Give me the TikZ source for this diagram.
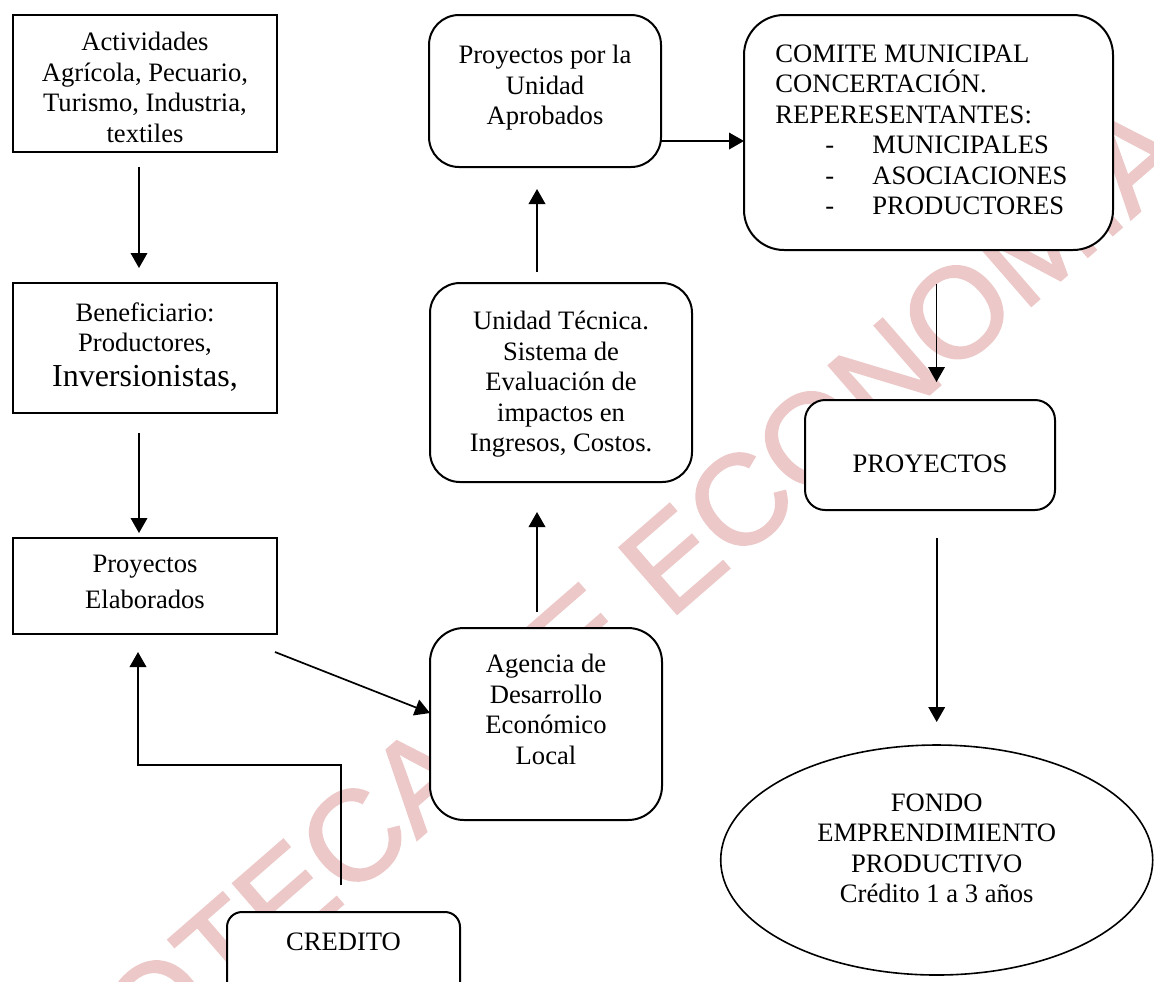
\documentclass[tikz,border=0pt]{standalone}
\usepackage{fontspec}
\setmainfont{Liberation Serif}
\newfontfamily\marcafont[FakeBold=1.5]{Liberation Sans}
\usetikzlibrary{arrows.meta, calc, positioning, shapes.geometric}
\definecolor{wmpink}{RGB}{236,200,200}
\newcommand{\guion}[1]{\makebox[48.5pt][l]{\hspace{25pt}-}#1}

\begin{document}
\begin{tikzpicture}[
				x=0.5pt, y=-0.5pt,
				texts/.style = {text=black, inner sep=0pt, align=center, font=\fontsize{13.3}{15.25}\selectfont},
				marca/.style = {text=wmpink, inner sep=0pt, font=\marcafont\fontsize{64}{64}\selectfont},
				sqbox/.style = {draw, line width=1pt, fill=white, inner sep=0pt, outer sep=0pt},
				rdbox/.style = {sqbox, rounded corners=#1},
				rdbox/.default = 15pt,
				oval/.style = {sqbox, ellipse, line width=0.8pt},
				flow/.style = {draw, line width=0.85pt, -{Triangle[length=7.5pt, width=8.3pt]}}
				]
				\useasboundingbox (0,0) rectangle (1154,981);
				\clip (0,0) rectangle (1154,981);
				\node[marca, rotate=41, anchor=base west] (wm) at (-88,1279) {BIBLIOTECA DE ECONOMIA};
				
				% left column
				\node[sqbox, minimum width=132pt, minimum height=68.5pt] (act) at (145,83.5) {};
				\node[texts, below=8.4pt of act.north] (act-t) {Actividades\\Agrícola, Pecuario,\\Turismo, Industria,\\textiles};
				\node[sqbox, minimum width=132pt, minimum height=65pt] (ben) at (145,348) {};
				\node[texts, below=9.5pt of ben.north] (ben-t) {Beneficiario:\\Productores,\\[2.25pt]{\fontsize{16}{18}\selectfont Inversionistas,}};
				\node[sqbox, minimum width=132pt, minimum height=48pt] (elab) at (145,586) {};
				\node[texts, below=8.5pt of elab.north] (elab-t) {Proyectos\\[2.5pt]Elaborados};
				\node[rdbox=7.5pt, minimum width=116.5pt, minimum height=44pt] (cred) at (343.5,956) {};
				\node[texts, below=10.2pt of cred.north] (cred-t) {CREDITO};
				
				% middle column
				\node[rdbox, minimum width=116pt, minimum height=76pt] (apro) at (545,91) {};
				\node[texts, below=15pt of apro.north] (apro-t) {Proyectos por la\\Unidad\\Aprobados};
				\node[rdbox, minimum width=131pt, minimum height=99.5pt] (unid) at (561,382.5) {};
				\node[texts, below=14pt of unid.north] (unid-t) {Unidad Técnica.\\Sistema de\\Evaluación de\\impactos en\\Ingresos, Costos.};
				\node[rdbox=17pt, minimum width=116pt, minimum height=96pt] (agen) at (546,724) {};
				\node[texts, below=12.9pt of agen.north] (agen-t) {Agencia de\\Desarrollo\\Económico\\Local};
				
				% right column
				\node[rdbox=20pt, minimum width=184.5pt, minimum height=117.5pt] (comite) at (928.5,132.5) {};
				\node[texts, align=left, below right=14.5pt and 15.5pt of comite.north west] (comite-t) {COMITE MUNICIPAL\\CONCERTACIÓN.\\REPERESENTANTES:\\\guion{MUNICIPALES}\\\guion{ASOCIACIONES}\\\guion{PRODUCTORES}};
				\node[rdbox=10pt, minimum width=125pt, minimum height=55pt] (proy) at (930,455) {};
				\node[texts, below=27pt of proy.north] (proy-t) {PROYECTOS};
				\node[oval, minimum width=216pt, minimum height=115pt] (fondo) at (936.7,860) {};
				\node[texts, below=24pt of fondo.north] (fondo-t) {FONDO\\EMPRENDIMIENTO\\PRODUCTIVO\\Crédito 1 a 3 años};
				
				\draw[flow, shorten <=7.5pt, shorten >=7.5pt] ([xshift=-3pt]act.south) -- ([xshift=-3pt]ben.north);
				\draw[flow, shorten <=10pt, shorten >=2.5pt] ([xshift=-3pt]ben.south) -- ([xshift=-3pt]elab.north);
				\draw[flow, shorten >=9pt] ([xshift=-1.25pt, yshift=13.5pt]cred.north) -- ++(0pt,60pt) -| ([xshift=-3.5pt]elab.south);
				\draw[flow] ([xshift=-1pt, yshift=-9pt]elab.south east) -- ([yshift=5.5pt]agen.west);
				\draw[flow, shorten <=8pt, shorten >=15pt] ([xshift=-4.5pt]agen.north) -- ([xshift=-4.5pt]agen.north |- unid.south);
				\draw[flow, shorten <=5.5pt, shorten >=11pt] ([xshift=-4pt]apro.south |- unid.north) -- ([xshift=-4pt]apro.south);
				\draw[flow] ([yshift=-25pt]apro.east) -- ([yshift=-25pt]apro.east -| comite.west);
				\draw[flow, shorten <=17pt, shorten >=9pt] ([xshift=4pt]comite.south) -- ([xshift=4pt]comite.south |- proy.north);
				\draw[flow, shorten <=14pt, shorten >=11.5pt] (proy.south -| fondo.north) -- (fondo.north);
\end{tikzpicture}
\end{document}
